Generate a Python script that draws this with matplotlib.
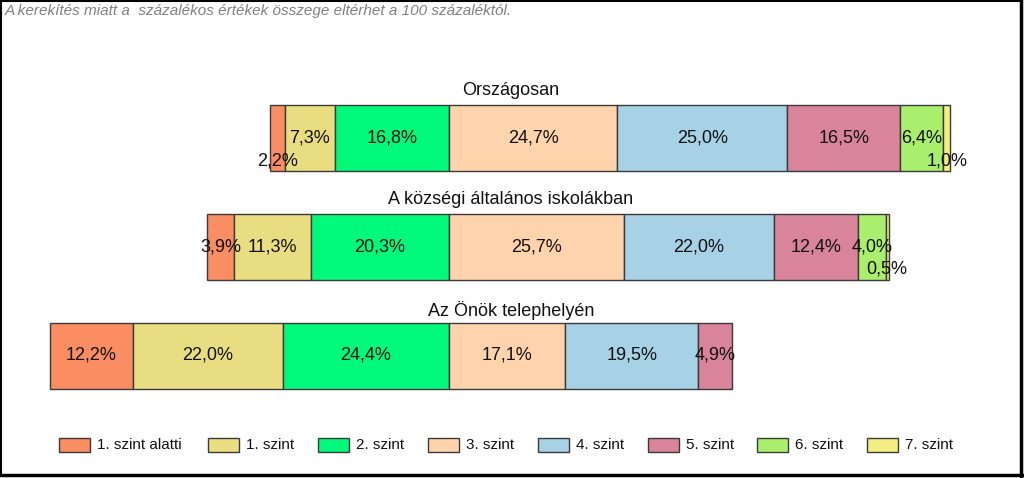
import matplotlib
matplotlib.use("Agg")
import matplotlib.pyplot as plt
from matplotlib.patches import Rectangle
from matplotlib.lines import Line2D

plt.rcParams['font.family'] = ['Liberation Sans', 'DejaVu Sans']

# ---- data ----
groups = ["Országosan", "A községi általános iskolákban", "Az Önök telephelyén"]
levels = ["1. szint alatti", "1. szint", "2. szint", "3. szint",
          "4. szint", "5. szint", "6. szint", "7. szint"]
orszagos = [2.2, 7.3, 16.8, 24.7, 25.0, 16.5, 6.4, 1.0]
kozsegi = [3.9, 11.3, 20.3, 25.7, 22.0, 12.4, 4.0, 0.5]
telephely = [12.2, 22.0, 24.4, 17.1, 19.5, 4.9, 0.0, 0.0]
values = [orszagos, kozsegi, telephely]
note = "A kerekítés miatt a  százalékos értékek összege eltérhet a 100 százaléktól."

colors = ["#FA8D62", "#E9DD82", "#00F97A", "#FFD3AC",
          "#A7D1E5", "#D9849A", "#AAEE6E", "#F2EE82"]
edge = "#3a3a3a"

W, H = 1024, 478
fig = plt.figure(figsize=(W / 100, H / 100), dpi=100)
ax = fig.add_axes([0, 0, 1, 1])
scale = 6.81   # px per percent
center_px = 449
ax.set_xlim(-center_px / scale, (W - center_px) / scale)
ax.set_ylim(H, 0)
ax.axis("off")

bar_centers = [138, 246.5, 355.5]
bar_h = 66
title_y = [90, 200, 310]
title_x = (511 - center_px) / scale

for gi, (name, vals) in enumerate(zip(groups, values)):
    yc = bar_centers[gi]
    left = -sum(vals[:3])
    for li, v in enumerate(vals):
        if v <= 0:
            continue
        ax.barh(yc, v, left=left, height=bar_h, color=colors[li],
                edgecolor=edge, linewidth=1.0)
        cx = left + v / 2
        dy = 23 if v < 3 else 0
        ax.text(cx, yc + dy, f"{v:.1f}%".replace(".", ","), ha="center",
                va="center", fontsize=13, color="#111111")
        left += v
    ax.text(title_x, title_y[gi], name, ha="center", va="center",
            fontsize=13, color="#111111")

# legend
leg_x = [59, 208, 318, 428, 538, 648, 757, 867]
leg_y = 445
for lx, lab, col in zip(leg_x, levels, colors):
    x0 = (lx - center_px) / scale
    ax.add_patch(Rectangle((x0, leg_y - 7), 31 / scale, 14, facecolor=col,
                           edgecolor=edge, linewidth=1.0))
    ax.text((lx + 38 - center_px) / scale, leg_y, lab, ha="left",
            va="center", fontsize=11, color="#111111")

# note
fig.text(5 / W, 1 - 11 / H, note, ha="left", va="center", fontsize=11,
         style="italic", color="#808080")

# frame with shadow
def fl(x0, y0, x1, y1, lw):
    fig.add_artist(Line2D([x0 / W, x1 / W], [1 - y0 / H, 1 - y1 / H],
                          color="black", linewidth=lw,
                          transform=fig.transFigure))

fl(1, 0.5, 1021, 0.5, 1.5)
fl(0.8, 0, 0.8, 475, 1.5)
fl(1021, 0, 1021, 476, 2.5)
fl(0, 475, 1022, 475, 2.5)

fig.savefig("out.png", dpi=100)
